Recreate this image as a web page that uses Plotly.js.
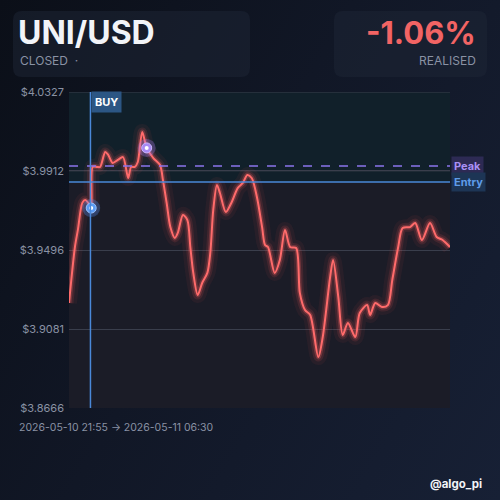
<!DOCTYPE html>
<html><head><meta charset="utf-8">
<script src="https://cdn.plot.ly/plotly-3.0.1.min.js"></script>
<style>
html,body{margin:0;padding:0;width:500px;height:500px;overflow:hidden;
background:linear-gradient(120deg,#0b0f18 0%,#111726 45%,#172035 100%);}
#chart{width:500px;height:500px;}
</style></head><body><div id="chart"></div>
<script>
// minutes after 2026-05-10 21:55
const minutes = [0,8,12,18,22,26,30,32,38,42,49,53,59,66,73,80,84,89,93,99,105,114,123,127,132,137,143,147,154,160,164,168,174,180,187,191,195,200,204,212,220,228,235,241,247,254,261,265,269,278,285,292,299,307,312,319,326,337,343,353,357,364,370,377,387,393,403,407,414,423,431,437,445,451,461,468,477,488,497,505,515];
const prices = [3.9218,3.9512,3.9602,3.9744,3.9759,3.9744,3.9717,3.9933,3.9933,3.9933,4.0012,3.9996,3.9954,3.9970,3.9985,3.9875,3.9933,3.9933,3.9959,4.0117,4.0033,3.9980,3.9943,3.9864,3.9744,3.9617,3.9560,3.9586,3.9681,3.9654,3.9512,3.9376,3.9260,3.9323,3.9376,3.9481,3.9707,3.9838,3.9796,3.9696,3.9749,3.9822,3.9849,3.9891,3.9875,3.9775,3.9617,3.9523,3.9512,3.9376,3.9444,3.9602,3.9512,3.9507,3.9271,3.9181,3.9155,3.8934,3.9039,3.9355,3.9444,3.9250,3.9050,3.9113,3.9039,3.9165,3.9207,3.9155,3.9218,3.9197,3.9207,3.9339,3.9512,3.9612,3.9617,3.9638,3.9549,3.9638,3.9565,3.9549,3.9512];
const yTicks = [4.0327,3.9912,3.9496,3.9081,3.8666];
const yTickText = ["$4.0327","$3.9912","$3.9496","$3.9081","$3.8666"];
const entryPrice = 3.9854, peakPrice = 3.9938;
const buyMinute = 29, entryMarker = [30,3.9717], peakMarker = [105,4.0033];
const totalMinutes = 515;
const symbol = "UNI/USD", status = "CLOSED  ·", pnl = "-1.06%", pnlLabel = "REALISED";
const rangeText = "2026-05-10 21:55 → 2026-05-11 06:30", handle = "@algo_pi";

const L=69,R=450,T=92,B=408;
const fx=p=>(p-L)/(R-L), fy=p=>(B-p)/(B-T);
function rrect(x0,y0,x1,y1,r){
  const rx=r/(R-L), ry=r/(B-T);
  const a=fx(x0),b=fx(x1),c=fy(y0),d=fy(y1);
  return `M${a+rx},${c} L${b-rx},${c} Q${b},${c} ${b},${c-ry} L${b},${d+ry} Q${b},${d} ${b-rx},${d} L${a+rx},${d} Q${a},${d} ${a},${d+ry} L${a},${c-ry} Q${a},${c} ${a+rx},${c} Z`;
}
const red='#ff6b6b';
const base={x:minutes,y:prices,mode:'lines',hoverinfo:'skip',showlegend:false};
const traces=[
 Object.assign({},base,{line:{color:'rgba(255,90,90,0.06)',width:16,shape:'spline',smoothing:0.8}}),
 Object.assign({},base,{line:{color:'rgba(255,90,90,0.12)',width:9,shape:'spline',smoothing:0.8}}),
 Object.assign({},base,{line:{color:'rgba(255,100,100,0.25)',width:5,shape:'spline',smoothing:0.8}}),
 Object.assign({},base,{line:{color:red,width:2,shape:'spline',smoothing:0.8}}),
 {x:[entryMarker[0]],y:[entryMarker[1]],mode:'markers',showlegend:false,hoverinfo:'skip',marker:{size:18,color:'rgba(80,150,255,0.3)'}},
 {x:[entryMarker[0]],y:[entryMarker[1]],mode:'markers',showlegend:false,hoverinfo:'skip',marker:{size:10,color:'#5b9cf5',line:{color:'#9cc4ff',width:1}}},
 {x:[entryMarker[0]],y:[entryMarker[1]],mode:'markers',showlegend:false,hoverinfo:'skip',marker:{size:4,color:'#ffffff'}},
 {x:[peakMarker[0]],y:[peakMarker[1]],mode:'markers',showlegend:false,hoverinfo:'skip',marker:{size:18,color:'rgba(170,130,250,0.3)'}},
 {x:[peakMarker[0]],y:[peakMarker[1]],mode:'markers',showlegend:false,hoverinfo:'skip',marker:{size:10,color:'#a88af5',line:{color:'#cdb8ff',width:1}}},
 {x:[peakMarker[0]],y:[peakMarker[1]],mode:'markers',showlegend:false,hoverinfo:'skip',marker:{size:4,color:'#ffffff'}}
];
const gray='#8a92a4';
const font='Inter, "Noto Sans", sans-serif';
const layout={
 width:500,height:500,margin:{l:L,r:500-R,t:T,b:500-B},
 paper_bgcolor:'rgba(0,0,0,0)',plot_bgcolor:'#1b1c27',
 xaxis:{range:[0,totalMinutes],showgrid:false,zeroline:false,showticklabels:false,ticks:'',fixedrange:true},
 yaxis:{range:[yTicks[4],yTicks[0]],tickvals:yTicks,ticktext:yTickText,showgrid:true,gridcolor:'#3a3e4c',gridwidth:1,zeroline:false,
   tickfont:{family:font,size:11,color:gray},ticks:'',ticklabelstandoff:4,fixedrange:true},
 shapes:[
  {type:'path',xref:'paper',yref:'paper',path:rrect(13,11,250,77,9),fillcolor:'rgba(30,38,54,0.5)',line:{width:0},layer:'below'},
  {type:'path',xref:'paper',yref:'paper',path:rrect(334,11,487,77,9),fillcolor:'rgba(30,38,54,0.5)',line:{width:0},layer:'below'},
  {type:'rect',xref:'paper',yref:'y',x0:0,x1:1,y0:entryPrice,y1:yTicks[0],fillcolor:'#11202a',line:{width:0},layer:'below'},
  {type:'line',xref:'paper',yref:'y',x0:0,x1:1,y0:yTicks[0],y1:yTicks[0],line:{color:'#3a3e4c',width:1},layer:'below'},
  {type:'line',xref:'paper',yref:'y',x0:0,x1:1,y0:yTicks[1],y1:yTicks[1],line:{color:'#343a46',width:1},layer:'below'},
  {type:'line',xref:'paper',yref:'y',x0:0,x1:1,y0:peakPrice,y1:peakPrice,line:{color:'#8a74ec',width:1.3,dash:'dash'}},
  {type:'line',xref:'paper',yref:'y',x0:0,x1:1,y0:entryPrice,y1:entryPrice,line:{color:'#4a88d8',width:1.6}},
  {type:'line',xref:'x',yref:'paper',x0:buyMinute,x1:buyMinute,y0:0,y1:1,line:{color:'#4a88d8',width:1.5}}
 ],
 annotations:[
  {xref:'paper',yref:'paper',x:fx(16),y:fy(33),xanchor:'left',yanchor:'middle',showarrow:false,text:'<b>'+symbol+'</b>',font:{family:font,size:32,color:'#f2f4f8',weight:900}},
  {xref:'paper',yref:'paper',x:fx(18),y:fy(61),xanchor:'left',yanchor:'middle',showarrow:false,text:status,font:{family:font,size:12,color:gray}},
  {xref:'paper',yref:'paper',x:fx(478),y:fy(33),xanchor:'right',yanchor:'middle',showarrow:false,text:'<b>'+pnl+'</b>',font:{family:font,size:31,color:'#f26464',weight:900}},
  {xref:'paper',yref:'paper',x:fx(478),y:fy(61),xanchor:'right',yanchor:'middle',showarrow:false,text:pnlLabel,font:{family:font,size:12,color:gray}},
  {xref:'paper',yref:'paper',x:fx(17),y:fy(428),xanchor:'left',yanchor:'middle',showarrow:false,text:rangeText,font:{family:font,size:10.5,color:gray}},
  {xref:'paper',yref:'paper',x:fx(484),y:fy(484),xanchor:'right',yanchor:'middle',showarrow:false,text:'<b>'+handle+'</b>',font:{family:font,size:11.5,color:'#f2f4f8'}},
  {xref:'x',yref:'paper',x:buyMinute+1,y:fy(102),xanchor:'left',yanchor:'middle',showarrow:false,text:'<b>BUY</b>',bgcolor:'#2c5684',borderpad:3,font:{family:font,size:11,color:'#ffffff'}},
  {xref:'paper',yref:'y',x:1.002,y:peakPrice,xanchor:'left',yanchor:'middle',showarrow:false,text:'<b>Peak</b>',bgcolor:'#2d2a54',borderpad:2,font:{family:font,size:11,color:'#a98ff5'}},
  {xref:'paper',yref:'y',x:1.002,y:entryPrice,xanchor:'left',yanchor:'middle',showarrow:false,text:'<b>Entry</b>',bgcolor:'#1d3555',borderpad:2,font:{family:font,size:11,color:'#5f9ce9'}}
 ]
};
Plotly.newPlot('chart',traces,layout,{displayModeBar:false,staticPlot:true});
</script></body></html>
